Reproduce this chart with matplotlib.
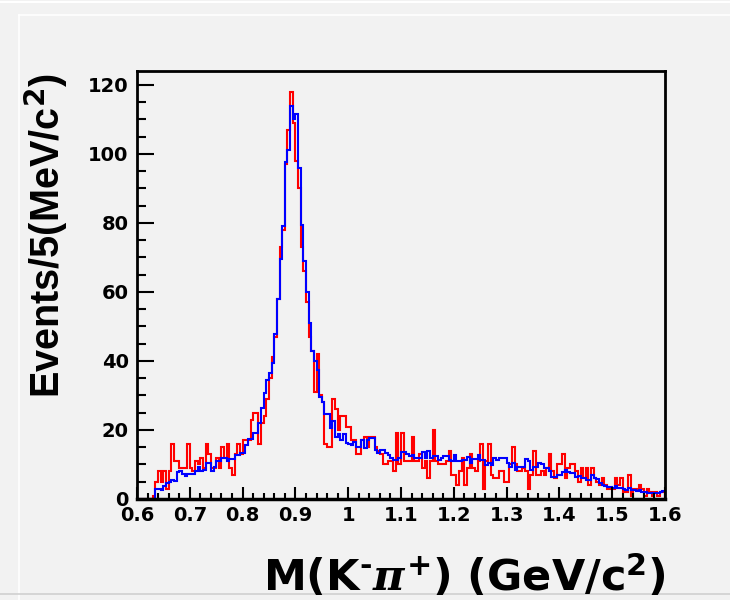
import numpy as np
import matplotlib
matplotlib.use('Agg')
import matplotlib.pyplot as plt
from matplotlib.lines import Line2D

# histogram range: 0.6 - 1.6 GeV/c^2 in 5 MeV bins
m_lo, m_hi, n_bins = 0.6, 1.6, 200

# data (red), events per 5 MeV bin
data_counts = [
    0, 0, 0, 0, 0, 0, 1, 5, 8, 5, 8, 3, 8, 16, 11, 11, 9, 9, 9, 16,
    9, 8, 11, 10, 12, 9, 16, 13, 9, 9, 12, 9, 15, 12, 16, 9, 7, 13, 16, 13,
    17, 17, 17, 23, 25, 25, 16, 22, 24, 29, 35, 41, 47, 58, 73, 78, 97, 107, 118, 109,
    98, 90, 73, 66, 57, 47, 43, 31, 42, 30, 28, 16, 15, 15, 29, 26, 20, 24, 24, 21,
    21, 17, 17, 13, 13, 17, 18, 15, 18, 18, 15, 14, 13, 10, 10, 11, 11, 8, 19, 10,
    19, 11, 11, 11, 18, 11, 11, 13, 9, 11, 6, 11, 20, 11, 10, 10, 10, 11, 14, 7,
    7, 4, 8, 12, 4, 9, 13, 9, 8, 11, 16, 3, 11, 16, 7, 6, 6, 8, 8, 5,
    5, 10, 15, 10, 8, 8, 9, 8, 3, 7, 14, 7, 7, 8, 7, 9, 13, 8, 6, 10,
    10, 13, 6, 9, 10, 10, 8, 5, 9, 6, 9, 4, 9, 6, 5, 4, 6, 4, 3, 3,
    3, 6, 4, 6, 2, 2, 7, 1, 3, 3, 4, 3, 1, 3, 2, 1, 2, 1, 2, 2,
]

# MC / fit (blue)
mc_counts = [
    0, 0, 0, 0, 0, 0, 0, 2.9, 2.9, 2.7, 3.7, 4.7, 5.0, 5.6, 5.1, 7.8, 8.2, 7.2, 6.6, 7.1,
    7.2, 7.2, 8.2, 9.2, 8.1, 8.5, 10.5, 10.5, 8.1, 9.4, 11.0, 11.1, 11.9, 11.9, 11.1, 11.6, 11.6, 12.8, 12.8, 13.4,
    13.4, 15.7, 17.5, 17.5, 19.2, 19.2, 22.0, 26.4, 30.7, 34.6, 36.5, 39.4, 47.7, 58.0, 69.5, 79.0, 97.6, 101.0, 114.0, 110.0,
    111.5, 96.0, 79.4, 69.0, 60.0, 51.0, 43.0, 40.0, 37.5, 29.6, 28.0, 24.5, 24.5, 20.6, 22.5, 18.1, 18.8, 17.2, 18.9, 16.2,
    16.0, 15.7, 16.5, 15.2, 15.2, 17.2, 14.7, 17.2, 17.6, 17.6, 14.2, 13.3, 14.2, 14.2, 13.3, 12.8, 11.8, 11.3, 11.3, 12.0,
    13.6, 13.6, 13.0, 12.4, 12.8, 11.8, 11.8, 11.8, 13.6, 12.0, 13.8, 11.8, 12.6, 12.6, 11.3, 12.0, 12.6, 12.6, 11.3, 10.9,
    12.8, 10.9, 10.9, 11.3, 11.3, 12.2, 10.4, 11.6, 11.6, 12.8, 11.3, 11.3, 9.9, 10.4, 9.9, 12.0, 11.3, 11.8, 11.8, 11.8,
    10.4, 9.4, 10.4, 8.4, 9.4, 9.4, 9.4, 11.5, 10.9, 8.4, 9.4, 9.4, 10.4, 10.1, 9.1, 9.1, 8.1, 6.5, 6.5, 7.0,
    7.0, 7.7, 8.4, 7.7, 7.5, 7.5, 6.5, 6.8, 6.0, 6.2, 5.5, 5.5, 7.0, 6.0, 5.8, 4.6, 4.1, 3.9, 3.6, 3.6,
    3.1, 3.8, 3.3, 3.3, 2.9, 2.6, 3.1, 2.6, 2.6, 2.3, 2.6, 2.1, 2.1, 1.8, 1.8, 1.8, 1.8, 1.6, 2.1, 2.3,
]

x_ticks = [0.6, 0.7, 0.8, 0.9, 1.0, 1.1, 1.2, 1.3, 1.4, 1.5, 1.6]
x_ticklabels = ['0.6', '0.7', '0.8', '0.9', '1', '1.1', '1.2', '1.3', '1.4', '1.5', '1.6']
y_ticks = [0, 20, 40, 60, 80, 100, 120]
y_ticklabels = ['0', '20', '40', '60', '80', '100', '120']

bg = '#f2f2f2'
plt.rcParams['font.family'] = ['DejaVu Sans']
plt.rcParams['font.weight'] = 'bold'
plt.rcParams['mathtext.fontset'] = 'custom'
plt.rcParams['mathtext.rm'] = 'DejaVu Sans:bold'
plt.rcParams['mathtext.bf'] = 'DejaVu Sans:bold'
plt.rcParams['mathtext.it'] = 'DejaVu Serif:italic'

edges = np.linspace(m_lo, m_hi, n_bins + 1)

fig = plt.figure(figsize=(7.3, 6.0), dpi=100, facecolor=bg)
ax = fig.add_axes([137 / 730, 1 - 499 / 600, 528 / 730, 428 / 600])
ax.set_facecolor(bg)

ax.stairs(data_counts, edges, color='#ff0000', lw=1.5)
ax.stairs(mc_counts, edges, color='#0000ff', lw=1.5)

ax.set_xlim(m_lo, m_hi)
ax.set_ylim(0, 124)

ax.set_xticks(x_ticks)
ax.set_xticklabels(x_ticklabels)
ax.set_xticks(np.arange(0.6, 1.6001, 0.02), minor=True)
ax.set_yticks(y_ticks)
ax.set_yticklabels(y_ticklabels)
ax.set_yticks(np.arange(0, 124, 5), minor=True)

ax.tick_params(axis='both', which='both', direction='in', width=1.5, colors='black',
               top=False, right=False)
ax.tick_params(axis='x', which='major', length=9, pad=5, labelsize=14)
ax.tick_params(axis='x', which='minor', length=4.5)
ax.tick_params(axis='y', which='major', length=12, pad=6, labelsize=14)
ax.tick_params(axis='y', which='minor', length=6.5)
for lab in ax.get_xticklabels() + ax.get_yticklabels():
    lab.set_fontweight('bold')

for s in ['top', 'right', 'left']:
    ax.spines[s].set_linewidth(2)
ax.spines['bottom'].set_linewidth(2.5)

# axis titles
fig.text(70 / 730, 1 - 73 / 600, r'Events/5(MeV/c$^{2}$)', rotation=90,
         ha='right', va='top', fontsize=28.5, fontweight='bold',
         family='Liberation Sans')

fig.text(666 / 730, 1 - 591 / 600, r'M(K$^{\text{-}}\pi^{+}$) (GeV/c$^{2}$)',
         ha='right', va='baseline', fontsize=31, fontweight='bold')

# canvas bevel lines
fig.add_artist(Line2D([0, 1], [1 - 1.5 / 600] * 2, transform=fig.transFigure, color='white', lw=1.5))
fig.add_artist(Line2D([19 / 730, 1], [1 - 14.5 / 600] * 2, transform=fig.transFigure, color='white', lw=1.2))
fig.add_artist(Line2D([19 / 730] * 2, [0, 1 - 14.5 / 600], transform=fig.transFigure, color='white', lw=1.2))
fig.add_artist(Line2D([0, 1], [6 / 600] * 2, transform=fig.transFigure, color='#d0d0d0', lw=1.2))

fig.savefig('out.png', dpi=100, facecolor=bg)
